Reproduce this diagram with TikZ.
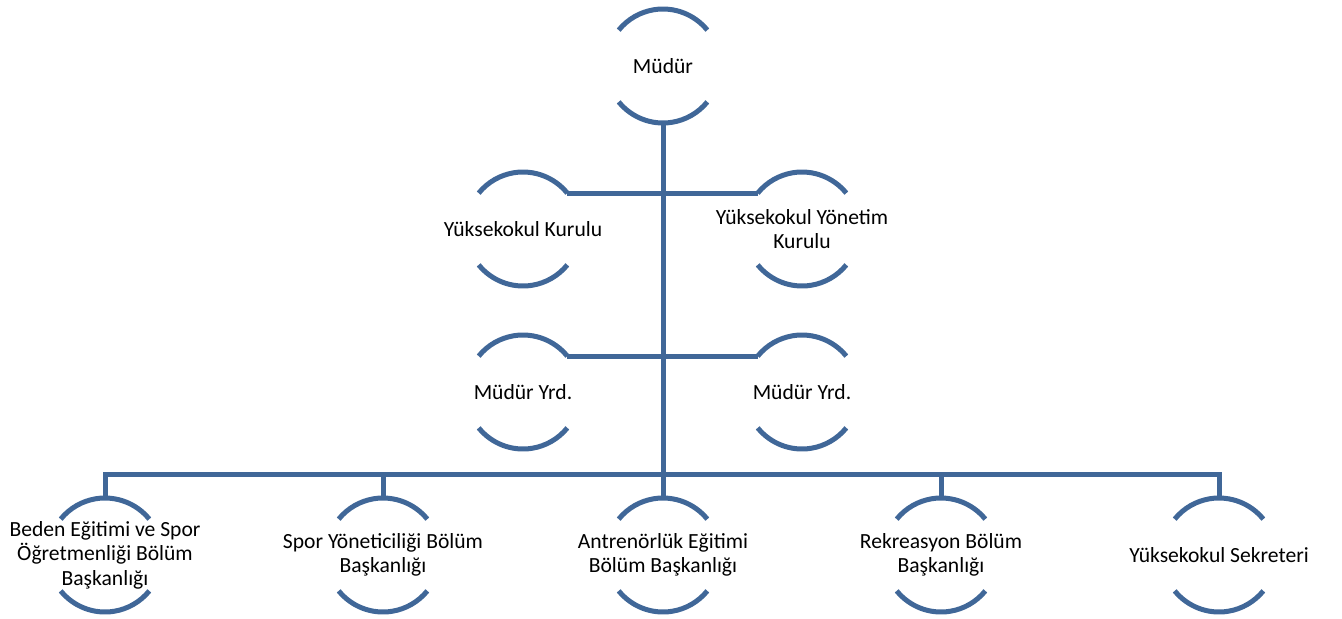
\documentclass[tikz,border=0pt]{standalone}
\usepackage{fontspec}
\setmainfont{Carlito}
\usetikzlibrary{calc}
\definecolor{orgblue}{RGB}{64,103,152}
\tikzset{
	unitline/.style={draw=orgblue, line width=3.75pt},
	unittext/.style={align=center, inner sep=0pt, font=\fontsize{16.2pt}{18.3pt}\selectfont}
}
\newcommand{\unitrad}{42.75pt} % 57 px
\newcommand{\orgunit}[4] % name, x, y, text
{
	% centre of the open circle
	\coordinate (#1-c) at (#2,#3);
	% top and bottom points, ends of the upper arc
	\coordinate (#1-n) at ($(#1-c)+(90:\unitrad)$);
	\coordinate (#1-s) at ($(#1-c)+(270:\unitrad)$);
	\coordinate (#1-e) at ($(#1-c)+(39:\unitrad)$);
	\coordinate (#1-w) at ($(#1-c)+(141:\unitrad)$);
	% upper and lower arcs
	\draw[unitline] (#1-e) arc[start angle=39, end angle=141, radius=\unitrad];
	\draw[unitline] ($(#1-c)+(219:\unitrad)$) arc[start angle=219, end angle=321, radius=\unitrad];
	% label
	\node[unittext] (#1) at (#1-c) {#4};
}

\begin{document}
\begin{tikzpicture}[x=0.75pt, y=0.75pt]
	% page: 1342 x 618 px
	\useasboundingbox (0,0) rectangle (1342,-618);
	
	\orgunit{mudur}{663}{-66}{Müdür};
	
	\orgunit{kurul}{523}{-229}{Yüksekokul Kurulu};
	\orgunit{yonetim}{802}{-229}{Yüksekokul Yönetim\\Kurulu};
	
	\orgunit{yrdA}{523}{-392}{Müdür Yrd.};
	\orgunit{yrdB}{802}{-392}{Müdür Yrd.};
	
	\orgunit{beden}{105}{-555}{Beden Eğitimi ve Spor\\Öğretmenliği Bölüm\\Başkanlığı};
	\orgunit{yonetici}{383}{-555}{Spor Yöneticiliği Bölüm\\Başkanlığı};
	\orgunit{antrenor}{663}{-555}{Antrenörlük Eğitimi\\Bölüm Başkanlığı};
	\orgunit{rekreasyon}{941}{-555}{Rekreasyon Bölüm\\Başkanlığı};
	\orgunit{sekreter}{1219}{-555}{Yüksekokul Sekreteri};
	
	% bus of the lower row
	\coordinate (bus) at (663,-474);
	
	% trunk
	\draw[unitline] (mudur-s) -- (bus);
	
	% side branches
	\draw[unitline] (kurul-e) -- (yonetim-w);
	\draw[unitline] (yrdA-e) -- (yrdB-w);
	
	% lower row
	\draw[unitline] (bus) -| (beden-n);
	\draw[unitline] (bus) -| (yonetici-n);
	\draw[unitline] (bus) -- (antrenor-n);
	\draw[unitline] (bus) -| (rekreasyon-n);
	\draw[unitline] (bus) -| (sekreter-n);
	
\end{tikzpicture}
\end{document}
